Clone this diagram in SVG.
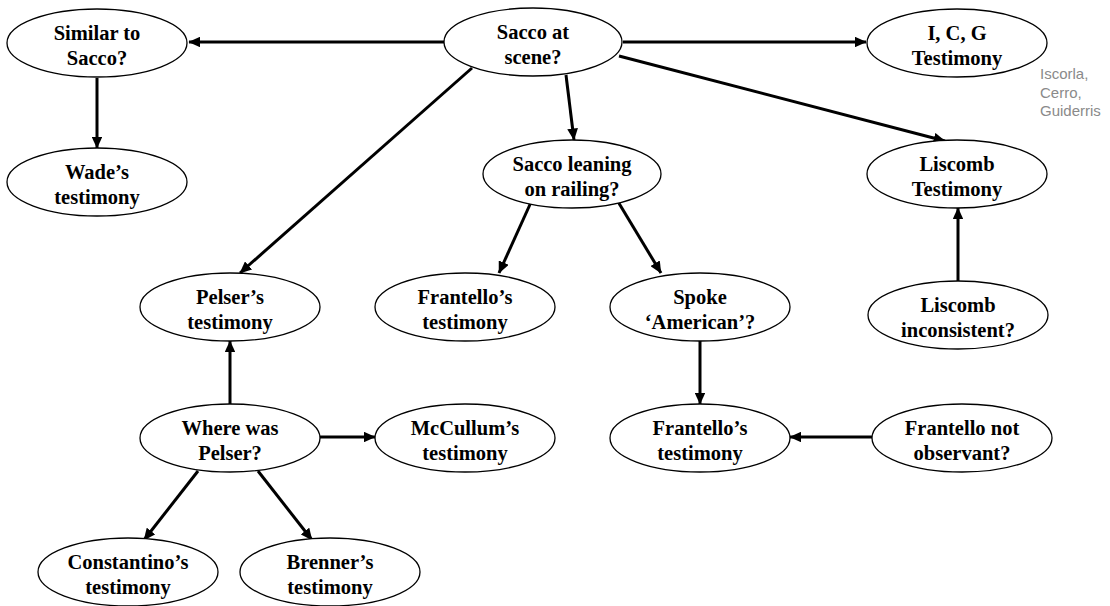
<svg xmlns="http://www.w3.org/2000/svg" width="1110" height="606" viewBox="0 0 1110 606">
  <style>
    .node ellipse { fill: #ffffff; stroke: #000000; stroke-width: 1.3; }
    .node text { font-family: "Liberation Serif", "Times New Roman", serif; font-weight: bold; font-size: 20.5px; fill: #000000; text-anchor: middle; }
    .edge { stroke: #000000; stroke-width: 3; fill: none; marker-end: url(#arrow); }
    .note { font-family: "Liberation Sans", Arial, sans-serif; font-size: 15px; fill: #8a8a8a; }
  </style>
  <defs>
    <marker id="arrow" markerWidth="4" markerHeight="3.6" refX="3.8" refY="1.8" orient="auto" markerUnits="strokeWidth">
      <path d="M0,0 L4,1.8 L0,3.6 Z" fill="#000000"/>
    </marker>
  </defs>
  <rect width="1110" height="606" fill="#ffffff"/>

  <!-- connectors -->
  <g id="connectors">
    <line class="edge" x1="444" y1="42" x2="189" y2="42"/>
    <line class="edge" x1="623" y1="42" x2="866" y2="42"/>
    <line class="edge" x1="619" y1="56" x2="945" y2="141"/>
    <line class="edge" x1="472" y1="68" x2="240" y2="273"/>
    <line class="edge" x1="566" y1="75" x2="574" y2="140"/>
    <line class="edge" x1="97" y1="78" x2="97" y2="148"/>
    <line class="edge" x1="532" y1="200" x2="499" y2="273"/>
    <line class="edge" x1="617" y1="200" x2="661" y2="273"/>
    <line class="edge" x1="958" y1="281" x2="958" y2="208"/>
    <line class="edge" x1="700" y1="341" x2="700" y2="404"/>
    <line class="edge" x1="230" y1="404" x2="230" y2="341"/>
    <line class="edge" x1="320" y1="437" x2="375" y2="437"/>
    <line class="edge" x1="198" y1="471" x2="144" y2="540"/>
    <line class="edge" x1="258" y1="471" x2="312" y2="540"/>
    <line class="edge" x1="872" y1="437" x2="790" y2="437"/>
  </g>

  <g id="similar-to-sacco" class="node">
    <ellipse cx="97" cy="43" rx="90" ry="34"/>
    <text x="97" y="40">Similar to</text>
    <text x="97" y="65">Sacco?</text>
  </g>
  <g id="wades-testimony" class="node">
    <ellipse cx="97" cy="182" rx="90" ry="34"/>
    <text x="97" y="179">Wade’s</text>
    <text x="97" y="204">testimony</text>
  </g>
  <g id="sacco-at-scene" class="node">
    <ellipse cx="533" cy="42" rx="89" ry="34"/>
    <text x="533" y="39">Sacco at</text>
    <text x="533" y="64">scene?</text>
  </g>
  <g id="icg-testimony" class="node">
    <ellipse cx="957" cy="43" rx="90" ry="34"/>
    <text x="957" y="40">I, C, G</text>
    <text x="957" y="65">Testimony</text>
  </g>
  <g id="icg-note">
    <text class="note" x="1040" y="79">Iscorla,</text>
    <text class="note" x="1040" y="97.5">Cerro,</text>
    <text class="note" x="1040" y="116">Guiderris</text>
  </g>
  <g id="liscomb-testimony" class="node">
    <ellipse cx="957" cy="174" rx="90" ry="34"/>
    <text x="957" y="171">Liscomb</text>
    <text x="957" y="196">Testimony</text>
  </g>
  <g id="sacco-leaning" class="node">
    <ellipse cx="572" cy="174" rx="89" ry="34"/>
    <text x="572" y="171">Sacco leaning</text>
    <text x="572" y="196">on railing?</text>
  </g>
  <g id="pelsers-testimony" class="node">
    <ellipse cx="230" cy="307" rx="90" ry="34"/>
    <text x="230" y="304">Pelser’s</text>
    <text x="230" y="329">testimony</text>
  </g>
  <g id="frantello-testimony-1" class="node">
    <ellipse cx="465" cy="307" rx="90" ry="34"/>
    <text x="465" y="304">Frantello’s</text>
    <text x="465" y="329">testimony</text>
  </g>
  <g id="spoke-american" class="node">
    <ellipse cx="700" cy="307" rx="90" ry="34"/>
    <text x="700" y="304">Spoke</text>
    <text x="700" y="329">‘American’?</text>
  </g>
  <g id="liscomb-inconsistent" class="node">
    <ellipse cx="958" cy="315" rx="90" ry="34"/>
    <text x="958" y="312">Liscomb</text>
    <text x="958" y="337">inconsistent?</text>
  </g>
  <g id="where-was-pelser" class="node">
    <ellipse cx="230" cy="438" rx="90" ry="34"/>
    <text x="230" y="435">Where was</text>
    <text x="230" y="460">Pelser?</text>
  </g>
  <g id="mccullums-testimony" class="node">
    <ellipse cx="465" cy="438" rx="90" ry="34"/>
    <text x="465" y="435">McCullum’s</text>
    <text x="465" y="460">testimony</text>
  </g>
  <g id="frantello-testimony-2" class="node">
    <ellipse cx="700" cy="438" rx="90" ry="34"/>
    <text x="700" y="435">Frantello’s</text>
    <text x="700" y="460">testimony</text>
  </g>
  <g id="frantello-not-observant" class="node">
    <ellipse cx="962" cy="438" rx="90" ry="34"/>
    <text x="962" y="435">Frantello not</text>
    <text x="962" y="460">observant?</text>
  </g>
  <g id="constantinos-testimony" class="node">
    <ellipse cx="128" cy="572" rx="90" ry="34"/>
    <text x="128" y="569">Constantino’s</text>
    <text x="128" y="594">testimony</text>
  </g>
  <g id="brenners-testimony" class="node">
    <ellipse cx="330" cy="572" rx="90" ry="34"/>
    <text x="330" y="569">Brenner’s</text>
    <text x="330" y="594">testimony</text>
  </g>
</svg>
